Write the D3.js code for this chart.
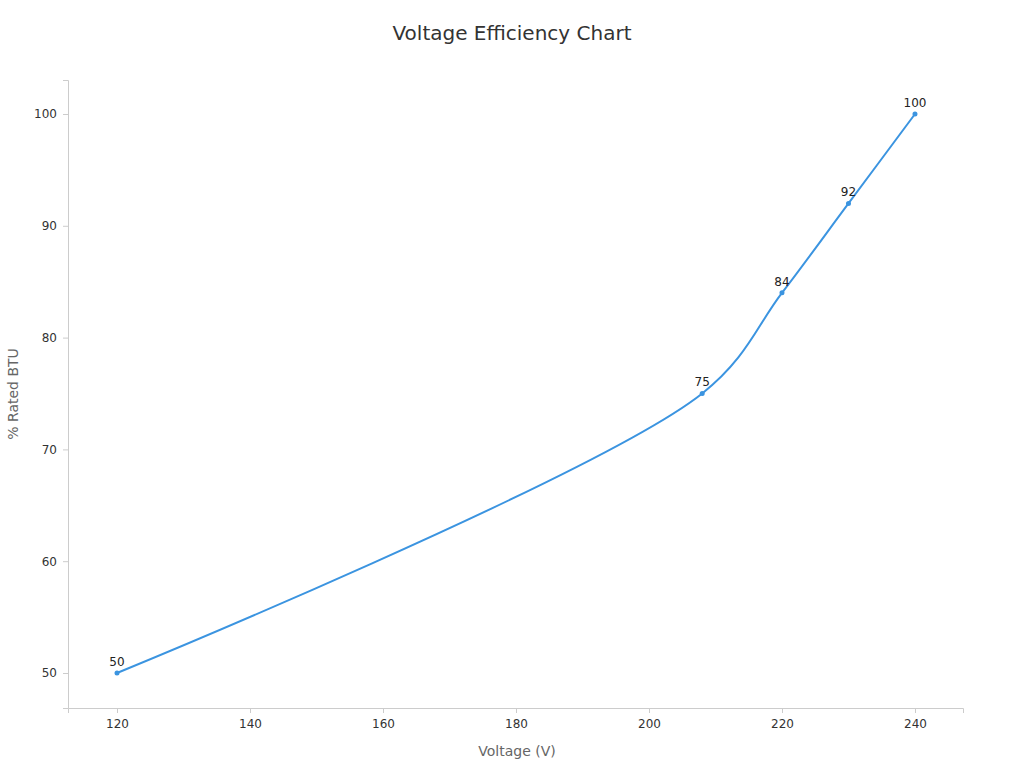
<!DOCTYPE html>
<html><head><meta charset="utf-8">
<script src="https://cdn.jsdelivr.net/npm/d3@7"></script>
<style>body{margin:0;background:#fff;font-family:"DejaVu Sans",sans-serif}</style>
</head><body><svg id="c" width="1024" height="768"></svg>
<script>
const voltages=[120,208,220,230,240];
const btu=[50,75,84,92,100];
const xTicks=[120,140,160,180,200,220,240];
const yTicks=[50,60,70,80,90,100];
const svg=d3.select("#c");
const x=d3.scaleLinear().domain([112.63,247.22]).range([68,963]);
const y=d3.scaleLinear().domain([46.87,103.04]).range([708,80]);
const col="#3b94e0";
svg.append("text").attr("x",512).attr("y",40).attr("text-anchor","middle").attr("font-size",20).attr("fill","#333").text("Voltage Efficiency Chart");
const gx=svg.append("g").attr("transform","translate(0,708)").call(d3.axisBottom(x).tickValues(xTicks).tickSize(5).tickPadding(6));
const gy=svg.append("g").attr("transform","translate(68,0)").call(d3.axisLeft(y).tickValues(yTicks).tickSize(5).tickPadding(6));
[gx,gy].forEach(g=>{g.selectAll("path,line").attr("stroke","#ccc");g.selectAll("text").attr("font-size",12).attr("fill","#333").attr("font-family","DejaVu Sans");});
svg.append("text").attr("x",517).attr("y",756).attr("text-anchor","middle").attr("font-size",14).attr("fill","#666").text("Voltage (V)");
svg.append("text").attr("transform","translate(18,394) rotate(-90)").attr("text-anchor","middle").attr("font-size",14).attr("fill","#666").text("% Rated BTU");
const pts=voltages.map((v,i)=>[v,btu[i]]);
svg.append("path").datum(pts).attr("fill","none").attr("stroke",col).attr("stroke-width",2)
 .attr("d",d3.line().x(d=>x(d[0])).y(d=>y(d[1])).curve(d3.curveCatmullRom.alpha(0.5)));
svg.selectAll("circle").data(pts).join("circle").attr("cx",d=>x(d[0])).attr("cy",d=>y(d[1])).attr("r",2.5).attr("fill",col);
svg.selectAll(".lb").data(pts).join("text").attr("x",d=>x(d[0])).attr("y",d=>y(d[1])-7).attr("text-anchor","middle").attr("font-size",12).attr("fill","#222").text(d=>d[1]);
</script></body></html>
